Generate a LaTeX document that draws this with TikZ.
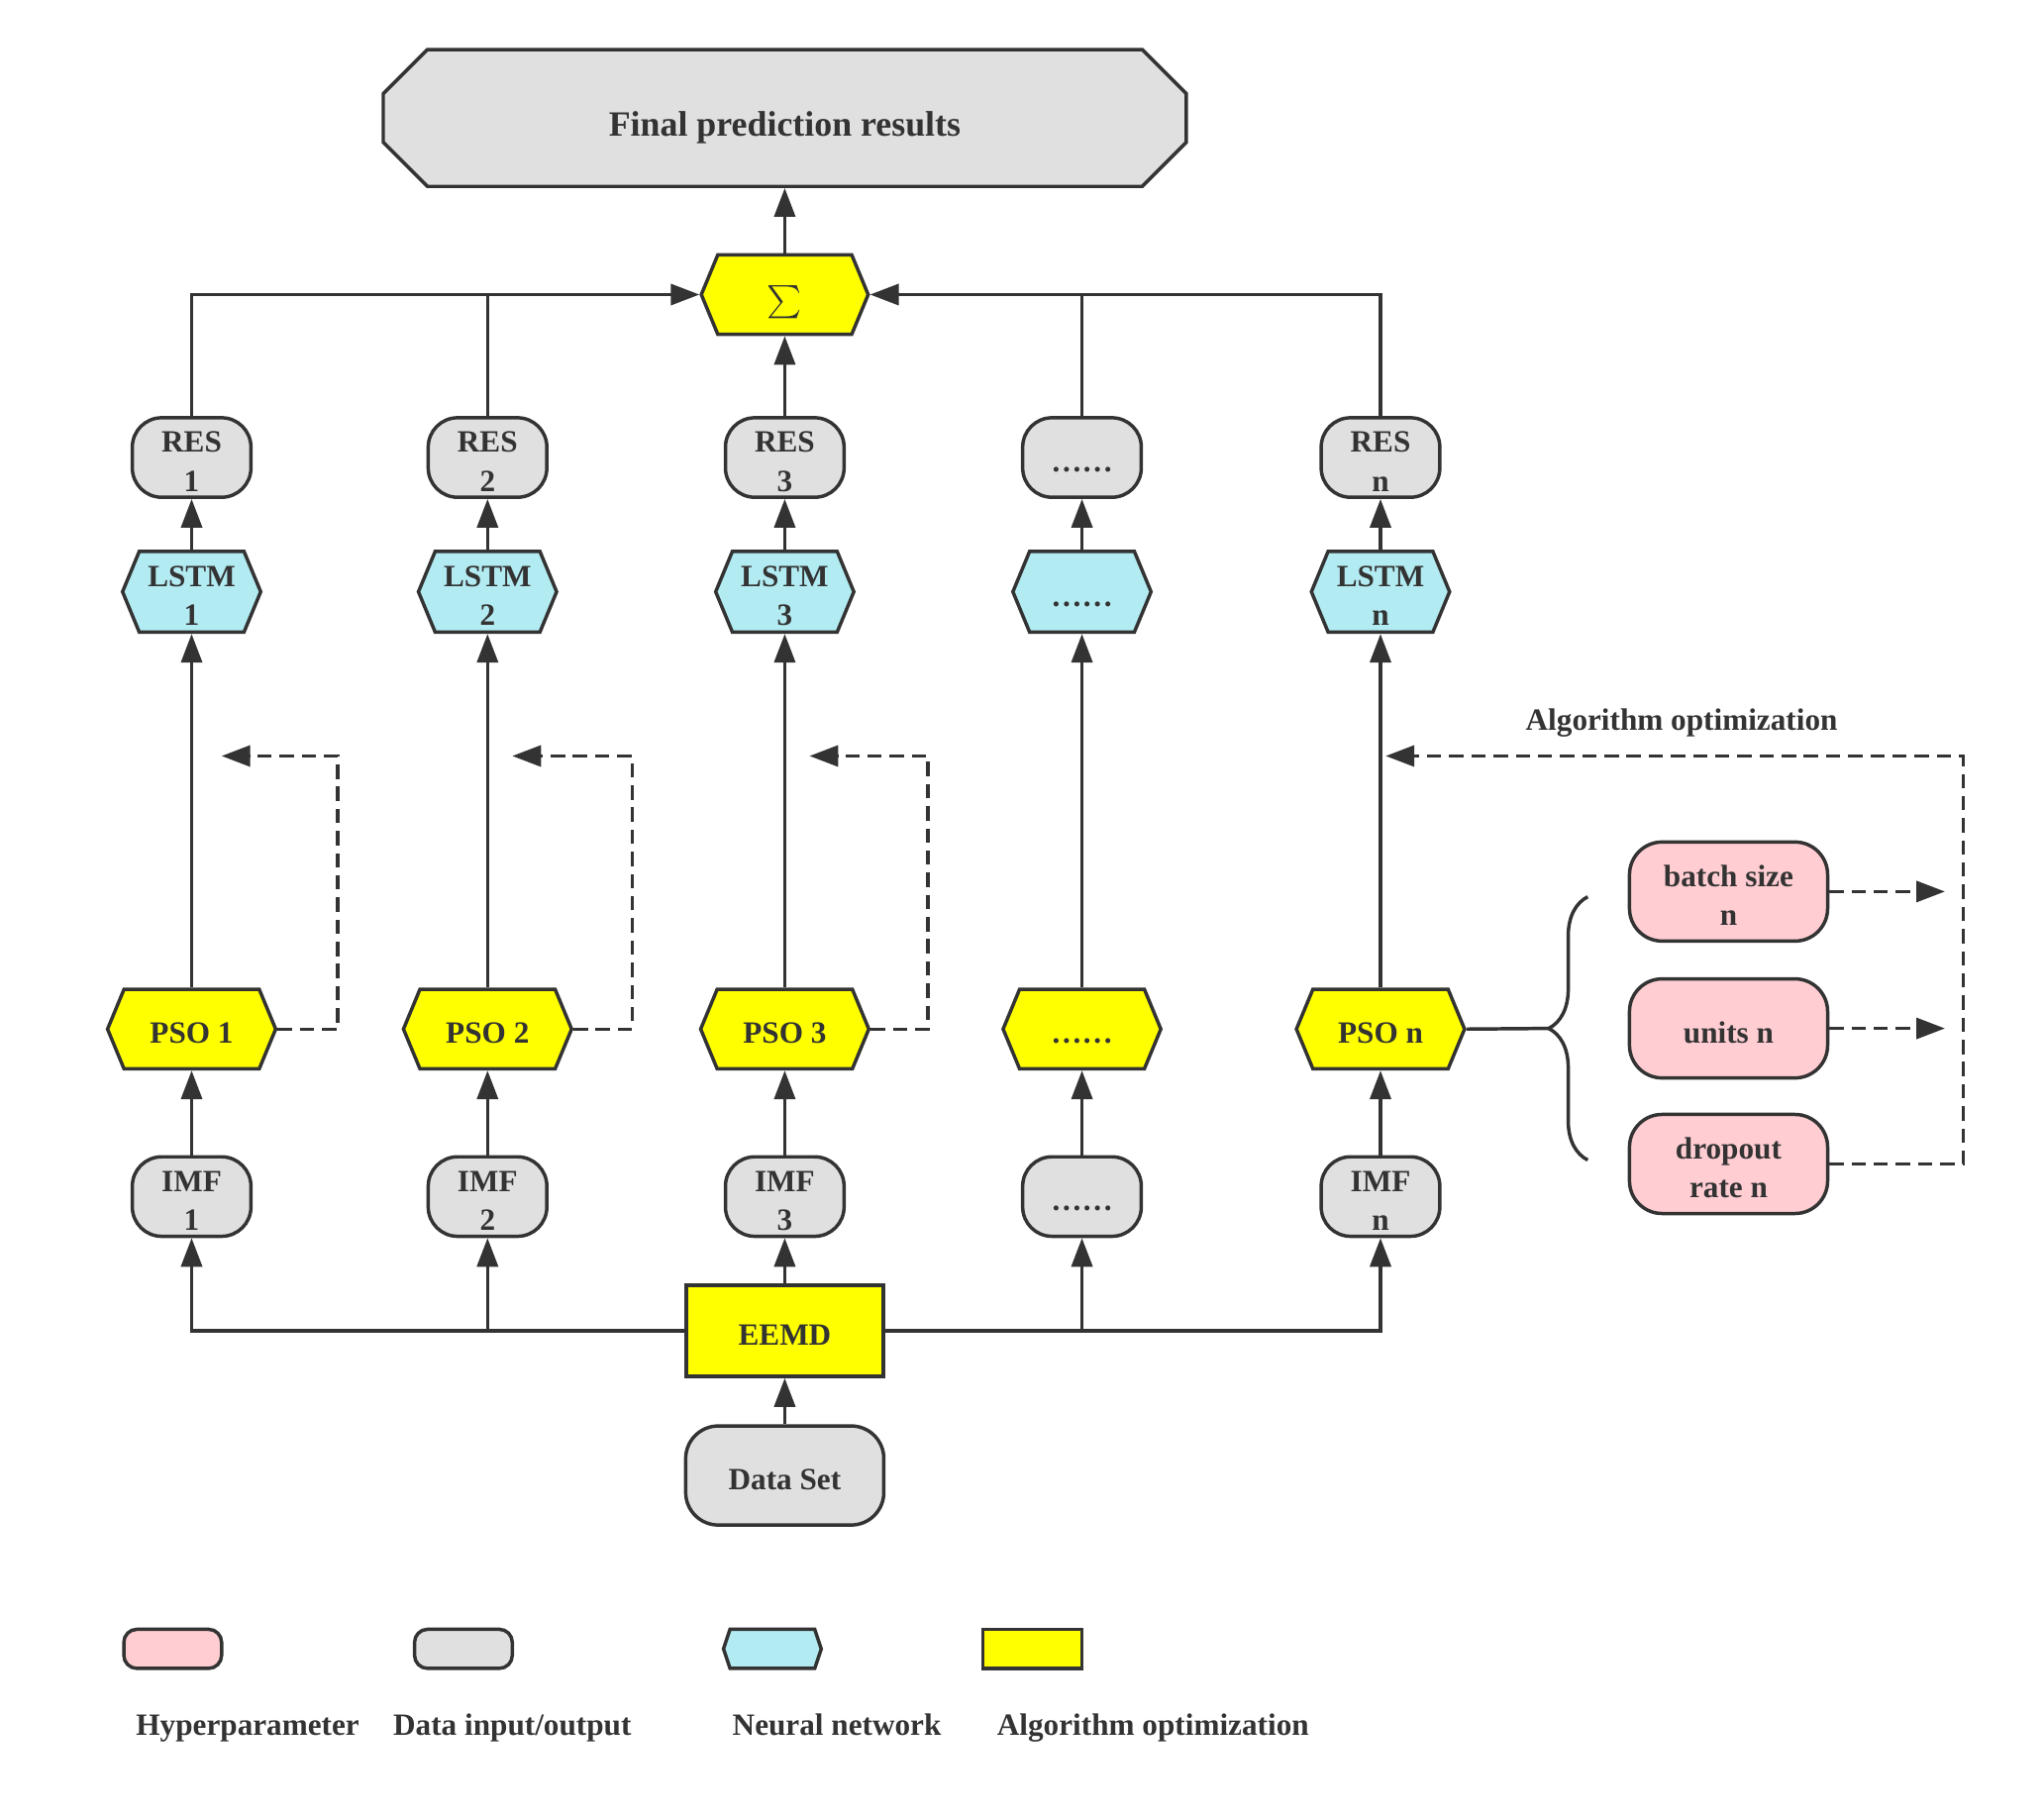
\documentclass[tikz,border=0pt]{standalone}
\usepackage{exscale}
\usepackage{fontspec}
\setmainfont{Liberation Serif}
\usetikzlibrary{shapes.symbols,shapes.misc,arrows.meta,decorations.pathreplacing}
\definecolor{lineclr}{HTML}{333333}
\definecolor{dataclr}{HTML}{E0E0E0}
\definecolor{hypclr}{HTML}{FFCDD2}
\definecolor{netclr}{HTML}{B2EBF2}
\definecolor{algclr}{HTML}{FFFF00}
\newcommand{\lowtext}[1]{\raisebox{-0.1cm}[\height][\depth]{\begin{tabular}{@{}c@{}}#1\end{tabular}}}
\tikzset{
	base/.style={draw=lineclr, line width=1.5pt, text=lineclr, font=\fontsize{13.5}{17}\selectfont\bfseries, align=center, inner sep=0pt},
	data/.style={base, fill=dataclr, rounded corners=0.45cm, minimum width=1.82cm, minimum height=1.22cm},
	hyper/.style={base, fill=hypclr, rounded corners=0.5cm, minimum width=3.04cm, minimum height=1.52cm},
	net/.style={base, fill=netclr, signal, signal to=west and east, signal pointer angle=135, minimum width=2.12cm, minimum height=1.24cm},
	algo/.style={base, fill=algclr, signal, signal to=west and east, signal pointer angle=135, minimum width=2.58cm, minimum height=1.22cm},
	lbl/.style={text=lineclr, font=\fontsize{13.5}{17}\selectfont\bfseries, inner sep=0pt},
	link/.style={draw=lineclr, line width=1.5pt},
	flow/.style={link, -{Triangle[length=0.44cm,width=0.32cm]}},
	feedback/.style={flow, dash pattern=on 0.22cm off 0.12cm},
}
\begin{document}
\begin{tikzpicture}
		\useasboundingbox (0,0) rectangle (31.36,-27.88);

		\node[base, fill=dataclr, chamfered rectangle, chamfered rectangle xsep=0.43cm, chamfered rectangle ysep=0.43cm, minimum width=12.32cm, minimum height=2.1cm, font=\fontsize{15.5}{18}\selectfont\bfseries] (final) at (12.04,-1.81) {\raisebox{-0.15cm}[\height][\depth]{Final prediction results}};
		\node[algo, minimum width=2.56cm] (sum) at (12.04,-4.52) {\raisebox{-0.12cm}[\height][\depth]{\fontsize{14.5}{16}\selectfont$\sum$}};

		\node[data] (res1) at (2.94,-7.02) {\lowtext{RES\\1}};
		\node[data] (res2) at (7.48,-7.02) {\lowtext{RES\\2}};
		\node[data] (res3) at (12.04,-7.02) {\lowtext{RES\\3}};
		\node[data] (res4) at (16.6,-7.02) {\lowtext{……}};
		\node[data] (resn) at (21.18,-7.02) {\lowtext{RES\\n}};

		\node[net] (lstm1) at (2.94,-9.08) {\lowtext{LSTM\\1}};
		\node[net] (lstm2) at (7.48,-9.08) {\lowtext{LSTM\\2}};
		\node[net] (lstm3) at (12.04,-9.08) {\lowtext{LSTM\\3}};
		\node[net] (lstm4) at (16.6,-9.08) {\lowtext{……}};
		\node[net] (lstmn) at (21.18,-9.08) {\lowtext{LSTM\\n}};

		\node[algo] (pso1) at (2.94,-15.79) {\lowtext{PSO 1}};
		\node[algo] (pso2) at (7.48,-15.79) {\lowtext{PSO 2}};
		\node[algo] (pso3) at (12.04,-15.79) {\lowtext{PSO 3}};
		\node[algo, minimum width=2.42cm] (pso4) at (16.6,-15.79) {\lowtext{……}};
		\node[algo] (pson) at (21.18,-15.79) {\lowtext{PSO n}};

		\node[data] (imf1) at (2.94,-18.36) {\lowtext{IMF\\1}};
		\node[data] (imf2) at (7.48,-18.36) {\lowtext{IMF\\2}};
		\node[data] (imf3) at (12.04,-18.36) {\lowtext{IMF\\3}};
		\node[data] (imf4) at (16.6,-18.36) {\lowtext{……}};
		\node[data] (imfn) at (21.18,-18.36) {\lowtext{IMF\\n}};

		\node[base, fill=algclr, minimum width=3.02cm, minimum height=1.4cm] (eemd) at (12.04,-20.42) {\lowtext{EEMD}};
		\node[base, fill=dataclr, rounded corners=0.5cm, minimum width=3.04cm, minimum height=1.52cm] (data) at (12.04,-22.64) {\lowtext{Data Set}};

		\node[hyper] (batch) at (26.52,-13.68) {\lowtext{batch size\\n}};
		\node[hyper] (units) at (26.52,-15.78) {\lowtext{units n}};
		\node[hyper] (dropout) at (26.52,-17.86) {\lowtext{dropout\\rate n}};
		\node[lbl] (optlbl) at (25.8,-11.1) {Algorithm optimization};

		\coordinate (fb1) at (3.4,-11.6);
		\coordinate (fb2) at (7.86,-11.6);
		\coordinate (fb3) at (12.42,-11.6);
		\coordinate (fbn) at (21.26,-11.6);
		\coordinate (fbc) at (30.12,-11.6);
		\coordinate (hb) at (29.84,-13.68);
		\coordinate (hu) at (29.84,-15.78);
		\coordinate (tip) at (23.76,-15.78);

		\draw[flow] (sum.north) -- (final.south);
		\draw[flow] (res1.north) |- (sum.west);
		\draw[link] (res2.north) -- (res2.north |- sum.west);
		\draw[flow] (res3.north) -- (sum.south);
		\draw[link] (res4.north) -- (res4.north |- sum.east);
		\draw[flow] (resn.north) |- (sum.east);

		\draw[flow] (lstm1.north) -- (res1.south);
		\draw[flow] (lstm2.north) -- (res2.south);
		\draw[flow] (lstm3.north) -- (res3.south);
		\draw[flow] (lstm4.north) -- (res4.south);
		\draw[flow] (lstmn.north) -- (resn.south);

		\draw[flow] (pso1.north) -- (lstm1.south);
		\draw[flow] (pso2.north) -- (lstm2.south);
		\draw[flow] (pso3.north) -- (lstm3.south);
		\draw[flow] (pso4.north) -- (lstm4.south);
		\draw[flow] (pson.north) -- (lstmn.south);

		\draw[flow] (imf1.north) -- (pso1.south);
		\draw[flow] (imf2.north) -- (pso2.south);
		\draw[flow] (imf3.north) -- (pso3.south);
		\draw[flow] (imf4.north) -- (pso4.south);
		\draw[flow] (imfn.north) -- (pson.south);

		\draw[flow] (eemd.west) -| (imf1.south);
		\draw[flow] (imf2.south |- eemd.west) -- (imf2.south);
		\draw[flow] (eemd.north) -- (imf3.south);
		\draw[flow] (imf4.south |- eemd.east) -- (imf4.south);
		\draw[flow] (eemd.east) -| (imfn.south);
		\draw[flow] (data.north) -- (eemd.south);

		\draw[feedback] (pso1.east) -- ++(0.92,0) |- (fb1);
		\draw[feedback] (pso2.east) -- ++(0.9,0) |- (fb2);
		\draw[feedback] (pso3.east) -- ++(0.88,0) |- (fb3);
		\draw[feedback] (batch.east) -- (hb);
		\draw[feedback] (units.east) -- (hu);
		\draw[feedback] (dropout.east) -| (fbc) -- (fbn);

		\draw[link] (pson.east) -- (tip);
		\draw[link, decorate, decoration={brace, amplitude=0.6cm}] (24.36,-17.8) -- (24.36,-13.76);

		% legend
		\node[base, fill=hypclr, rounded corners=0.2cm, minimum width=1.5cm, minimum height=0.6cm] (keyhyp) at (2.65,-25.3) {};
		\node[base, fill=dataclr, rounded corners=0.2cm, minimum width=1.5cm, minimum height=0.6cm] (keydata) at (7.11,-25.3) {};
		\node[base, fill=netclr, signal, signal to=west and east, signal pointer angle=143, minimum width=1.5cm, minimum height=0.6cm] (keynet) at (11.85,-25.3) {};
		\node[base, fill=algclr, minimum width=1.52cm, minimum height=0.6cm] (keyalg) at (15.84,-25.3) {};
		\node[lbl, anchor=base] at (3.8,-26.63) {Hyperparameter};
		\node[lbl, anchor=base] at (7.86,-26.63) {Data input/output};
		\node[lbl, anchor=base] at (12.84,-26.63) {Neural network};
		\node[lbl, anchor=base] at (17.69,-26.63) {Algorithm optimization};
	\end{tikzpicture}
\end{document}
